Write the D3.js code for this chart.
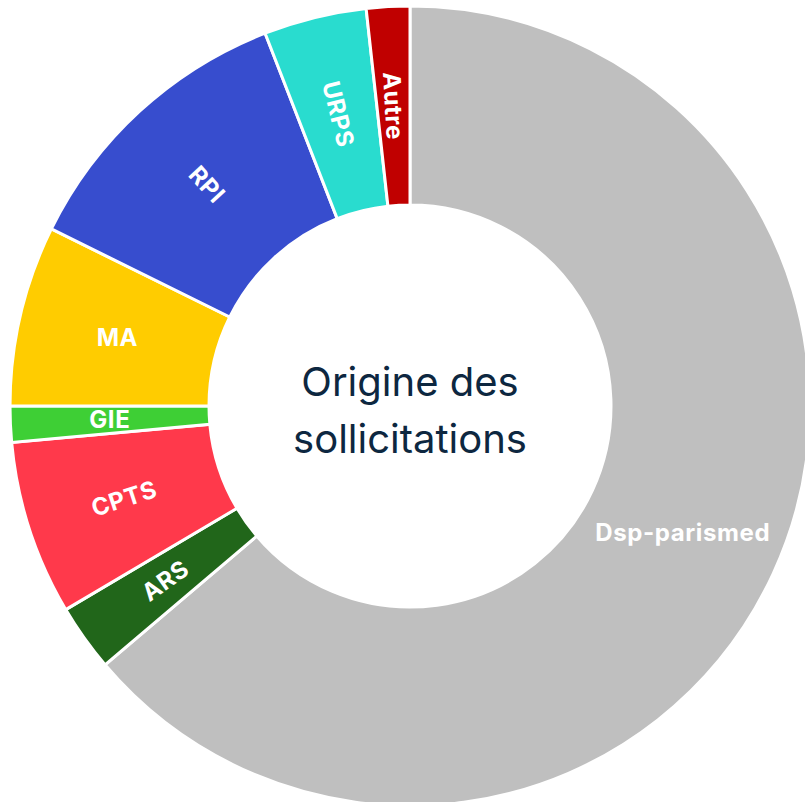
<!DOCTYPE html>
<html>
<head>
<meta charset="utf-8">
<script src="https://cdn.jsdelivr.net/npm/d3@7"></script>
<style>
  html, body { margin: 0; padding: 0; background: #fff; overflow: hidden; }
</style>
</head>
<body>
<script>
'use strict';

// slices, clockwise from 12 o'clock (share in %)
const categories = ["Dsp-parismed", "ARS", "CPTS", "GIE", "MA", "RPI", "URPS", "Autre"];
const values = [63.8, 2.7, 7.05, 1.45, 7.3, 11.8, 4.15, 1.75];
const colors = ["#bfbfbf", "#21661a", "#ff394b", "#3ecf35", "#ffcc00", "#374dce", "#29dccf", "#c00000"];
const centerLines = ["Origine des", "sollicitations"];

(function () {
  const width = 805, height = 802;
  const cx = 410, cy = 406;
  const outerR = 400, innerR = 201;

  let svg = d3.select('body')
    .append('svg')
    .attr('width', width)
    .attr('height', height);

  let rows = categories.map((c, i) => ({ name: c, value: values[i], color: colors[i] }));

  let pie = d3.pie()
    .sort(null)
    .value(d => d.value);

  let arc = d3.arc()
    .innerRadius(innerR)
    .outerRadius(outerR);

  let g = svg.append('g')
    .attr('transform', 'translate(' + cx + ',' + cy + ')');

  let arcs = pie(rows);

  g.selectAll('path')
    .data(arcs)
    .enter()
    .append('path')
    .attr('d', arc)
    .attr('fill', d => d.data.color)
    .attr('stroke', '#fff')
    .attr('stroke-width', 3);

  // labels: horizontal when the slice is wide or already lies almost flat,
  // otherwise rotated along the radius
  function labelAngle(d) {
    let mid = (d.startAngle + d.endAngle) / 2 * 180 / Math.PI;
    let span = (d.endAngle - d.startAngle) * 180 / Math.PI;
    let tilt = mid - 90;            // radial direction, right side
    if (mid > 180) tilt = mid - 270; // left side, keep text readable
    if (span > 90 || Math.abs(tilt) < 15) return 0;
    return tilt;
  }

  g.selectAll('text.slice')
    .data(arcs)
    .enter()
    .append('text')
    .attr('class', 'slice')
    .attr('transform', d => {
      let c = arc.centroid(d);
      return 'translate(' + c[0] + ',' + c[1] + ') rotate(' + labelAngle(d) + ')';
    })
    .attr('text-anchor', 'middle')
    .attr('dy', '0.36em')
    .style('font-family', 'Inter, "Open Sans", sans-serif')
    .style('font-weight', 700)
    .style('font-size', '24px')
    .style('letter-spacing', '0.6px')
    .style('fill', '#fff')
    .text(d => d.data.name);

  // title in the hole
  g.selectAll('text.center')
    .data(centerLines)
    .enter()
    .append('text')
    .attr('class', 'center')
    .attr('x', 0)
    .attr('y', (d, i) => -10 + i * 57)
    .attr('text-anchor', 'middle')
    .style('font-family', 'Inter, "Open Sans", sans-serif')
    .style('font-weight', 400)
    .style('font-size', '40px')
    .style('fill', '#0d2740')
    .text(d => d);
})();
</script>
</body>
</html>
